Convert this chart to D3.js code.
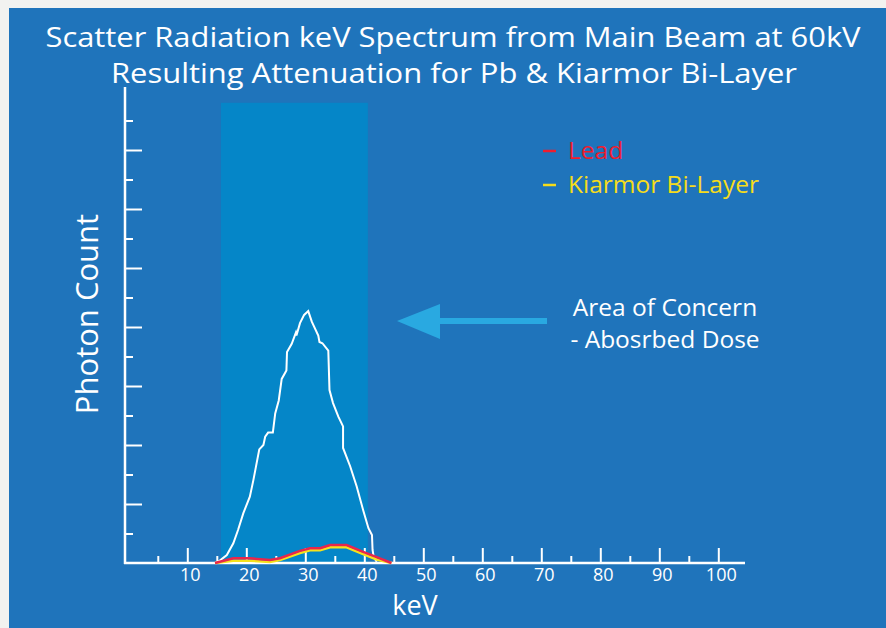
<!DOCTYPE html>
<html>
<head>
<meta charset="utf-8">
<script src="https://cdn.jsdelivr.net/npm/d3@7"></script>
<style>
  body { margin: 0; background: #f2f2f0; }
  svg { display: block; }
  text { font-family: "Open Sans", sans-serif; }
</style>
</head>
<body>
<svg width="886" height="628"></svg>
<script>
// scatter spectrum from main beam (white trace)
const spectrumKeV = [14.7, 15.5, 16.7, 17.8, 18.6, 19.5, 20.6, 21.2, 22.2, 22.9, 23.2, 23.7, 24.5, 24.9, 25.5, 26.0, 26.8, 26.9, 27.7, 28.4, 28.5, 29.1, 29.8, 30.5, 31.1, 32.2, 32.4, 32.9, 33.9, 34.1, 34.7, 35.6, 36.4, 36.4, 37.6, 38.7, 39.8, 40.7, 41.3, 41.4, 41.6, 42.1];
const spectrumCount = [0, 0.08, 0.27, 0.67, 1.12, 1.69, 2.25, 2.81, 3.85, 4.0, 4.28, 4.42, 4.42, 5.07, 5.51, 6.24, 6.53, 7.15, 7.43, 7.81, 7.71, 8.13, 8.41, 8.54, 8.18, 7.71, 7.49, 7.45, 7.2, 5.86, 5.42, 4.96, 4.63, 3.9, 3.28, 2.6, 1.8, 1.18, 0.95, 0.44, 0.2, 0.04];

// attenuated spectra
const attenKeV = [14.7, 17.8, 20.6, 24.0, 25.7, 29.1, 30.8, 32.5, 34.2, 37.0, 39.8, 42.1, 44.6];
const leadCount = [0, 0.16, 0.16, 0.1, 0.16, 0.41, 0.5, 0.5, 0.61, 0.61, 0.38, 0.2, 0];
const kiarmorCount = [0, 0.08, 0.08, 0.03, 0.1, 0.34, 0.43, 0.43, 0.53, 0.53, 0.3, 0.12, 0];

const majorTicks = [10, 20, 30, 40, 50, 60, 70, 80, 90, 100];
const minorTicks = [5, 15, 25, 35, 45, 55, 65, 75, 85, 95];
const yLongTicks = [2, 4, 6, 8, 10, 12, 14];
const yShortTicks = [1, 3, 5, 7, 9, 11, 13, 15];
const concernBand = [15.7, 40.6];
const bandTop = 15.6;

const svg = d3.select("svg");

const x = d3.scaleLinear().domain([0, 100]).range([128.3, 718.3]);
const y = d3.scaleLinear().domain([0, 16]).range([563, 91]);

// panel
svg.append("rect")
  .attr("x", 9).attr("y", 8)
  .attr("width", 877).attr("height", 620)
  .attr("fill", "#1f74bb");

// area of concern band
svg.append("rect")
  .attr("x", x(concernBand[0]))
  .attr("y", y(bandTop))
  .attr("width", x(concernBand[1]) - x(concernBand[0]))
  .attr("height", y(0) - y(bandTop))
  .attr("fill", "#0586c8");

// title
const title = svg.append("g").attr("fill", "#fff").attr("font-size", 28).attr("text-anchor", "middle");
title.append("text").attr("x", 453).attr("y", 47)
  .attr("textLength", 815).attr("lengthAdjust", "spacingAndGlyphs")
  .text("Scatter Radiation keV Spectrum from Main Beam at 60kV");
title.append("text").attr("x", 454).attr("y", 83)
  .attr("textLength", 686).attr("lengthAdjust", "spacingAndGlyphs")
  .text("Resulting Attenuation for Pb & Kiarmor Bi-Layer");

// x axis
const xMinor = svg.append("g").attr("transform", `translate(0,${y(0)})`)
  .call(d3.axisBottom(x).tickValues(minorTicks).tickSizeInner(-7).tickSizeOuter(0).tickFormat(""));
const xMajor = svg.append("g").attr("transform", `translate(0,${y(0)})`)
  .call(d3.axisBottom(x).tickValues(majorTicks).tickSizeInner(-15).tickSizeOuter(0).tickPadding(5));
[xMinor, xMajor].forEach(g => {
  g.select(".domain").remove();
  g.selectAll("line").attr("stroke", "#fff").attr("stroke-width", 2);
});
xMajor.selectAll("text")
  .attr("fill", "#fff").attr("font-size", 18).attr("font-family", "Open Sans")
  .attr("dx", 2.5);

// y axis
const yShort = svg.append("g").attr("transform", `translate(125,0)`)
  .call(d3.axisLeft(y).tickValues(yShortTicks).tickSizeInner(-8).tickSizeOuter(0).tickFormat(""));
const yLong = svg.append("g").attr("transform", `translate(125,0)`)
  .call(d3.axisLeft(y).tickValues(yLongTicks).tickSizeInner(-17).tickSizeOuter(0).tickFormat(""));
[yShort, yLong].forEach(g => {
  g.select(".domain").remove();
  g.selectAll("line").attr("stroke", "#fff").attr("stroke-width", 2);
});

// axis lines
svg.append("line")
  .attr("x1", 125).attr("x2", 125).attr("y1", 87).attr("y2", y(0) + 1)
  .attr("stroke", "#fff").attr("stroke-width", 2.5);
svg.append("line")
  .attr("x1", 124).attr("x2", 745).attr("y1", y(0)).attr("y2", y(0))
  .attr("stroke", "#fff").attr("stroke-width", 2.5);

// axis titles
svg.append("text")
  .attr("transform", "translate(98,314) rotate(-90)")
  .attr("text-anchor", "middle").attr("fill", "#fff").attr("font-size", 31)
  .text("Photon Count");
svg.append("text")
  .attr("x", 415).attr("y", 615)
  .attr("text-anchor", "middle").attr("fill", "#fff").attr("font-size", 27)
  .text("keV");

// lines
const line = d3.line().x(d => x(d[0])).y(d => y(d[1]));

svg.append("path")
  .datum(d3.zip(spectrumKeV, spectrumCount))
  .attr("d", line)
  .attr("fill", "none").attr("stroke", "#fff").attr("stroke-width", 2);

svg.append("path")
  .datum(d3.zip(attenKeV, kiarmorCount))
  .attr("d", line)
  .attr("fill", "none").attr("stroke", "#f6e21c").attr("stroke-width", 2.5);

svg.append("path")
  .datum(d3.zip(attenKeV, leadCount))
  .attr("d", line)
  .attr("fill", "none").attr("stroke", "#e8264c").attr("stroke-width", 2.5);

// legend
const legend = [
  { name: "Lead", color: "#ee1d2f", y: 159 },
  { name: "Kiarmor Bi-Layer", color: "#f6dc1a", y: 193 }
];
const lg = svg.append("g").selectAll("g").data(legend).join("g");
lg.append("line")
  .attr("x1", 543).attr("x2", 556)
  .attr("y1", d => d.y - 8).attr("y2", d => d.y - 8)
  .attr("stroke", d => d.color).attr("stroke-width", 2.5);
lg.append("text")
  .attr("x", 568).attr("y", d => d.y)
  .attr("fill", d => d.color).attr("font-size", 24.5)
  .text(d => d.name);

// arrow + annotation
svg.append("rect")
  .attr("x", 438).attr("y", 318)
  .attr("width", 109).attr("height", 6)
  .attr("fill", "#29a9e1");
svg.append("path")
  .attr("d", "M397,321 L440,304 L440,339 Z")
  .attr("fill", "#29a9e1");

const note = svg.append("g").attr("fill", "#fff").attr("font-size", 24.5).attr("text-anchor", "middle");
note.append("text").attr("x", 665).attr("y", 316).text("Area of Concern");
note.append("text").attr("x", 665).attr("y", 348).text("- Abosrbed Dose");
</script>
</body>
</html>
